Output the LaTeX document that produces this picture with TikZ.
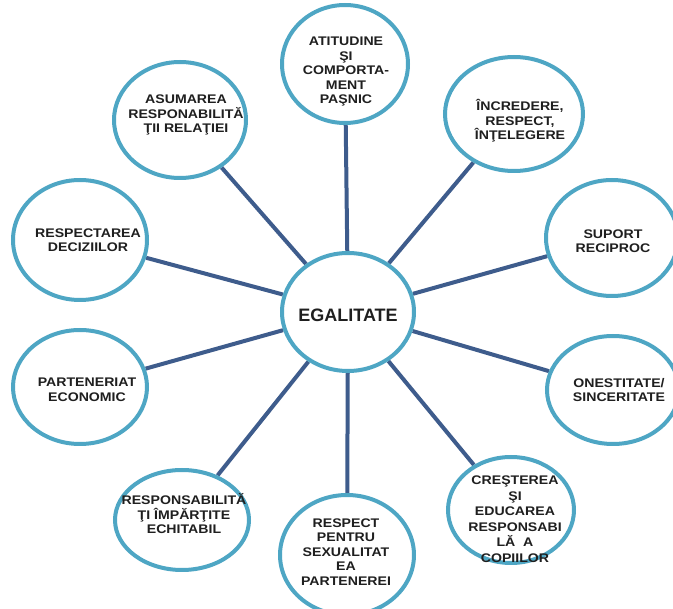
\documentclass[tikz,border=0pt]{standalone}
\usepackage{fontspec}
\usetikzlibrary{shapes.geometric,backgrounds}
\newfontfamily\labfont[FakeStretch=1.13]{Liberation Sans}
\newfontfamily\cenfont{Liberation Sans}
\definecolor{ringc}{RGB}{78,166,196}
\definecolor{spokec}{RGB}{62,92,140}
\begin{document}
\begin{tikzpicture}[x=1pt,y=-1pt,
  ring/.style={ellipse, draw=ringc, line width=4pt, fill=white, inner sep=0pt},
  spoke/.style={draw=spokec, line width=4pt},
  lab/.style={font=\labfont\bfseries\fontsize{12.5}{14.5}\selectfont, align=center, inner sep=0pt, text=black!88}]
\useasboundingbox (0,0) rectangle (673,609);
\clip (0,0) rectangle (673,609);
% rings
\node[ring, minimum width=132pt, minimum height=118pt] (c)  at (348,312) {};
\node[ring, minimum width=126pt, minimum height=118pt] (n)  at (345,64)  {};
\node[ring, minimum width=132pt, minimum height=116pt] (nw) at (180,120) {};
\node[ring, minimum width=138pt, minimum height=114pt] (ne) at (514,114) {};
\node[ring, minimum width=132pt, minimum height=116pt] (e)  at (612,238) {};
\node[ring, minimum width=134pt, minimum height=120pt] (w)  at (80,240)  {};
\node[ring, minimum width=134pt, minimum height=114pt] (w2) at (80,387)  {};
\node[ring, minimum width=132pt, minimum height=108pt] (e2) at (613,390) {};
\node[ring, minimum width=134pt, minimum height=100pt] (sw) at (182,520) {};
\node[ring, minimum width=134pt, minimum height=120pt] (s)  at (347,555) {};
\node[ring, minimum width=126pt, minimum height=106pt] (se) at (511,510) {};
% spokes
\begin{pgfonlayer}{background}
\foreach \t in {n,nw,ne,e,w,w2,e2,sw,s,se}{\draw[spoke] (c) -- (\t);}
\end{pgfonlayer}
% texts
\node[font=\cenfont\bfseries\fontsize{18}{20}\selectfont, text=black!88, inner sep=0pt] (tc) at (348,315) {EGALITATE};
\node[lab] (tn)  at (346,72)  {ATITUDINE\\ŞI\\COMPORTA-\\MENT\\PAŞNIC};
\node[lab] (tnw) at (186,115) {ASUMAREA\\RESPONABILITĂ\\ŢII RELAŢIEI};
\node[lab] (tne) at (520,121) {ÎNCREDERE,\\RESPECT,\\ÎNŢELEGERE};
\node[lab] (te)  at (613,241) {SUPORT\\RECIPROC};
\node[lab] (tw)  at (88,240)  {RESPECTAREA\\DECIZIILOR};
\node[lab] (tw2) at (87,390)  {PARTENERIAT\\ECONOMIC};
\node[lab] (te2) at (619,390) {ONESTITATE/\\SINCERITATE};
\node[lab] (tsw) at (184,514) {RESPONSABILITĂ\\ŢI ÎMPĂRŢITE\\ECHITABIL};
\node[lab] (ts)  at (346,552) {RESPECT\\PENTRU\\SEXUALITAT\\EA\\PARTENEREI};
\node[lab, font=\labfont\bfseries\fontsize{12.5}{15.5}\selectfont] (tse) at (515,519) {CREŞTEREA\\ŞI\\EDUCAREA\\RESPONSABI\\LĂ\ \ A\\COPIILOR};
\end{tikzpicture}
\end{document}
